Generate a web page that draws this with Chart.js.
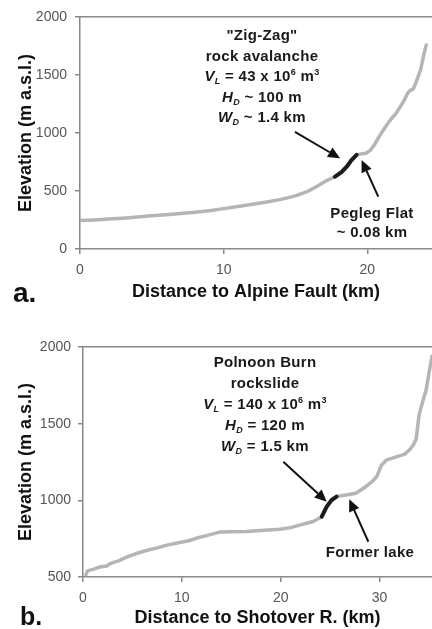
<!DOCTYPE html>
<html>
<head>
<meta charset="utf-8">
<script src="https://cdn.jsdelivr.net/npm/chart.js@4.4.1/dist/chart.umd.min.js"></script>
<style>
  body { margin: 0; background: #fff; }
  #wrap { position: relative; width: 432px; height: 629px; overflow: hidden; }
  canvas { position: absolute; left: 0; }
  #chartA { top: 0; }
  #chartB { top: 310px; }
  .note { position: absolute; font: bold 15px "Liberation Sans", Arial, sans-serif; line-height: 20.5px;
          text-align: center; color: #1a1a1a; letter-spacing: 0.3px; white-space: nowrap; }
  .note sub, .note sup { font-size: 9px; line-height: 0; position: relative; vertical-align: baseline; }
  .note sub { top: 3px; }
  .note sup { top: -6px; }
  .tag { position: absolute; font-family: "Liberation Sans", Arial, sans-serif; font-weight: bold; line-height: 1; color: #111; }
</style>
</head>
<body>
<div id="wrap">
  <canvas id="chartA" width="432" height="310"></canvas>
  <canvas id="chartB" width="432" height="319"></canvas>

  <div class="note" style="left:162px; top:25px; width:200px;">"Zig-Zag"<br>rock avalanche<br><i>V<sub>L</sub></i> = 43 x 10<sup>6</sup> m<sup>3</sup><br><i>H<sub>D</sub></i> ~ 100 m<br><i>W<sub>D</sub></i> ~ 1.4 km</div>
  <div class="note" style="left:312px; top:203px; width:120px; line-height:19px;">Pegleg Flat<br>~ 0.08 km</div>
  <div class="tag" style="left:13px; top:279px; font-size:28px;">a.</div>

  <div class="note" style="left:165px; top:351px; width:200px; line-height:21px;">Polnoon Burn<br>rockslide<br><i>V<sub>L</sub></i> = 140 x 10<sup>6</sup> m<sup>3</sup><br><i>H<sub>D</sub></i> = 120 m<br><i>W<sub>D</sub></i> = 1.5 km</div>
  <div class="note" style="left:310px; top:542px; width:120px;">Former lake</div>
  <div class="tag" style="left:20px; top:604px; font-size:25px;">b.</div>
</div>

<script>
// panel a: valley profile to the Alpine Fault
var profileA_km   = [0, 1, 2, 3, 4, 5, 6, 7, 8, 9, 10, 11, 12, 13, 14, 15, 15.8, 16.5, 17.2, 17.75, 18.2, 18.6, 18.9, 19.25, 19.6, 19.9, 20.2, 20.5, 20.9, 21.3, 21.6, 22.0, 22.3, 22.6, 22.8, 23.0, 23.2, 23.4, 23.7, 23.9, 24.1];
var profileA_elev = [245, 251, 258, 266, 276, 286, 296, 306, 317, 330, 348, 366, 386, 405, 428, 458, 494, 540, 592, 623, 662, 715, 767, 812, 820, 826, 850, 900, 985, 1060, 1112, 1170, 1227, 1290, 1342, 1368, 1380, 1440, 1543, 1658, 1759];
var depositA_km   = [17.75, 18.2, 18.6, 18.9, 19.25];
var depositA_elev = [623, 662, 715, 767, 812];
var xTicksA = [0, 10, 20];
var yTicksA = [0, 500, 1000, 1500, 2000];
var arrowsA = [
    { from: [14.96, 1009], to: [18.1, 782] },
    { from: [20.76, 451], to: [19.6, 767] }
];

// panel b: valley profile to the Shotover River
var profileB_km   = [0.3, 0.45, 1.0, 1.7, 2.4, 2.7, 3.1, 3.6, 4.4, 5.5, 6.4, 7.5, 8.5, 9.8, 10.8, 11.5, 12.5, 13.8, 15.0, 16.5, 18.0, 19.9, 21.0, 21.9, 22.7, 23.3, 24.15, 24.65, 25.15, 25.65, 26.1, 26.6, 27.6, 28.6, 29.2, 29.7, 30.2, 30.7, 31.3, 32.0, 32.5, 33.0, 33.4, 33.7, 34.0, 34.3, 34.7, 35.0, 35.3];
var profileB_elev = [515, 540, 550, 565, 572, 585, 595, 605, 630, 655, 673, 690, 708, 725, 738, 754, 770, 793, 795, 797, 803, 812, 822, 838, 852, 862, 893, 959, 1002, 1024, 1030, 1035, 1046, 1089, 1120, 1154, 1231, 1263, 1275, 1290, 1300, 1328, 1360, 1400, 1560, 1632, 1719, 1830, 1940];
var depositB_km   = [24.15, 24.65, 25.15, 25.65];
var depositB_elev = [893, 959, 1002, 1024];
var xTicksB = [0, 10, 20, 30];
var yTicksB = [500, 1000, 1500, 2000];
var arrowsB = [
    { from: [20.26, 1252], to: [24.65, 991] },
    { from: [28.86, 730], to: [26.93, 1007] }
];

Chart.defaults.font.family = "'Liberation Sans', Arial, sans-serif";

function points(xs, ys) {
    return xs.map(function(x, i) { return { x: x, y: ys[i] }; });
}

function plain(v) { return String(v); }

function arrowPlugin(list) {
    return {
        id: "arrows",
        afterDatasetsDraw: function(chart) {
            var ctx = chart.ctx, sx = chart.scales.x, sy = chart.scales.y;
            ctx.save();
            ctx.strokeStyle = "#111";
            ctx.fillStyle = "#111";
            ctx.lineWidth = 2;
            list.forEach(function(a) {
                var x0 = sx.getPixelForValue(a.from[0]), y0 = sy.getPixelForValue(a.from[1]);
                var x1 = sx.getPixelForValue(a.to[0]), y1 = sy.getPixelForValue(a.to[1]);
                var ang = Math.atan2(y1 - y0, x1 - x0);
                var hl = 12, hw = 5.5;
                var bx = x1 - hl * Math.cos(ang), by = y1 - hl * Math.sin(ang);
                ctx.beginPath();
                ctx.moveTo(x0, y0);
                ctx.lineTo(bx, by);
                ctx.stroke();
                ctx.beginPath();
                ctx.moveTo(x1, y1);
                ctx.lineTo(bx + hw * Math.sin(ang), by - hw * Math.cos(ang));
                ctx.lineTo(bx - hw * Math.sin(ang), by + hw * Math.cos(ang));
                ctx.closePath();
                ctx.fill();
            });
            ctx.restore();
        }
    };
}

function makeChart(id, cfg) {
    var tickFont = { size: 14 };
    var titleFont = { size: 18, weight: "bold" };
    return new Chart(document.getElementById(id).getContext("2d"), {
        type: "scatter",
        data: {
            datasets: [{
                data: points(cfg.profileX, cfg.profileY),
                showLine: true, borderColor: "#b5b5b5", borderWidth: 3.5,
                pointRadius: 0, tension: 0, borderJoinStyle: "round", borderCapStyle: "round", order: 2
            }, {
                data: points(cfg.depositX, cfg.depositY),
                showLine: true, borderColor: "#1c1c1c", borderWidth: 4,
                pointRadius: 0, tension: 0, borderJoinStyle: "round", borderCapStyle: "round", order: 1
            }]
        },
        options: {
            responsive: false,
            animation: false,
            layout: { padding: { top: cfg.padTop, left: 0, right: 0, bottom: 0 } },
            plugins: { legend: { display: false }, tooltip: { enabled: false } },
            scales: {
                x: {
                    type: "linear", min: 0, max: cfg.xMax,
                    afterBuildTicks: function(s) { s.ticks = cfg.xTicks.map(function(v) { return { value: v }; }); },
                    afterFit: function(s) { s.height = cfg.xHeight; },
                    ticks: { padding: 8, color: "#555", font: tickFont, callback: plain },
                    grid: { drawOnChartArea: false, drawTicks: true, tickLength: 5, color: "#888", lineWidth: 1.5 },
                    border: { color: "#888", width: 1.5 },
                    title: { display: true, text: cfg.xTitle, color: "#111", font: titleFont,
                             padding: { top: 0, bottom: cfg.xTitlePad } }
                },
                x2: {
                    type: "linear", position: "top", display: true,
                    afterFit: function(s) { s.height = 0; },
                    ticks: { display: false },
                    grid: { display: false },
                    border: { color: "#888", width: 1.5 }
                },
                y: {
                    type: "linear", min: cfg.yMin, max: 2000,
                    afterBuildTicks: function(s) { s.ticks = cfg.yTicks.map(function(v) { return { value: v }; }); },
                    afterFit: function(s) { s.width = cfg.yWidth; },
                    ticks: { padding: cfg.yPad, color: "#555", font: tickFont, callback: plain },
                    grid: { drawOnChartArea: false, drawTicks: true, tickLength: 5, color: "#888", lineWidth: 1.5 },
                    border: { color: "#888", width: 1.5 },
                    title: { display: true, text: "Elevation (m a.s.l.)", color: "#111", font: titleFont,
                             padding: { top: 15, bottom: 0 } }
                }
            }
        },
        plugins: [arrowPlugin(cfg.arrows)]
    });
}

makeChart("chartA", {
    profileX: profileA_km, profileY: profileA_elev,
    depositX: depositA_km, depositY: depositA_elev,
    xTicks: xTicksA, yTicks: yTicksA, arrows: arrowsA,
    xMax: 24.5, yMin: 0, padTop: 17, xHeight: 61, yWidth: 80, yPad: 8, xTitlePad: 7,
    xTitle: "Distance to Alpine Fault (km)"
});

makeChart("chartB", {
    profileX: profileB_km, profileY: profileB_elev,
    depositX: depositB_km, depositY: depositB_elev,
    xTicks: xTicksB, yTicks: yTicksB, arrows: arrowsB,
    xMax: 35.3, yMin: 500, padTop: 37, xHeight: 52, yWidth: 83, yPad: 7, xTitlePad: 0,
    xTitle: "Distance to Shotover R. (km)"
});
</script>
</body>
</html>
